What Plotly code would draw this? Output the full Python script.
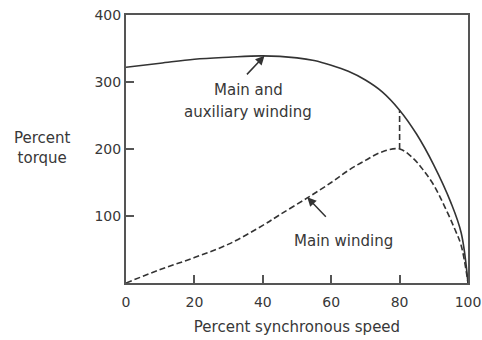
import plotly.graph_objects as go

speed_both = [0, 10, 20, 30, 40, 50, 55, 60, 65, 70, 75, 80, 85, 90, 95, 98, 100]
torque_both = [322, 328, 334, 337, 339, 336, 332, 325, 316, 303, 285, 258, 222, 176, 120, 75, 0]

speed_main = [0, 10, 20, 30, 40, 45, 53, 60, 65, 70, 75, 80, 84, 87, 90, 93, 96, 98, 100]
torque_main = [0, 20, 38, 58, 86, 102, 127, 150, 168, 183, 196, 200, 186, 168, 146, 116, 82, 56, 0]

switch_speed = [80, 80]
switch_torque = [200, 258]

x_ticks = [0, 20, 40, 60, 80, 100]
y_ticks = [100, 200, 300, 400]

ink = "#383838"
font = dict(family="DejaVu Sans, Verdana, sans-serif", size=15, color=ink)
tick_font = dict(family="DejaVu Sans, Verdana, sans-serif", size=14, color=ink)

fig = go.Figure()
fig.add_trace(go.Scatter(x=speed_both, y=torque_both, mode="lines",
                         line=dict(color="#333333", width=1.6, shape="spline", smoothing=1)))
fig.add_trace(go.Scatter(x=speed_main, y=torque_main, mode="lines",
                         line=dict(color="#333333", width=1.6, dash="6px,3px", shape="spline", smoothing=1)))
fig.add_trace(go.Scatter(x=switch_speed, y=switch_torque, mode="lines",
                         line=dict(color="#333333", width=1.6, dash="6px,3px")))

fig.update_xaxes(range=[0, 100], tickvals=x_ticks, ticks="inside", ticklen=8, tickwidth=1.5,
                 tickcolor="#555", showline=True, linecolor="#555", linewidth=2, mirror=True,
                 showgrid=False, zeroline=False, tickfont=tick_font, ticklabelstandoff=5,
                 automargin=False,
                 title=dict(text="Percent synchronous speed", font=font, standoff=13))
fig.update_yaxes(range=[0, 400], tickvals=y_ticks, ticks="inside", ticklen=8, tickwidth=1.5,
                 tickcolor="#555", showline=True, linecolor="#555", linewidth=2, mirror=True,
                 showgrid=False, zeroline=False, tickfont=tick_font, automargin=False)

fig.add_annotation(x=40.5, y=339, ax=-19, ay=20, axref="pixel", ayref="pixel",
                   xref="x", yref="y", showarrow=True, arrowhead=2, arrowsize=1.2,
                   arrowwidth=1.5, arrowcolor="#333", text="")
fig.add_annotation(x=35.7, y=288, text="Main and", showarrow=False,
                   xref="x", yref="y", font=font, xanchor="center", yanchor="middle")
fig.add_annotation(x=35.7, y=255, text="auxiliary winding", showarrow=False,
                   xref="x", yref="y", font=font, xanchor="center", yanchor="middle")
fig.add_annotation(x=53, y=128, ax=20, ay=21, axref="pixel", ayref="pixel",
                   xref="x", yref="y", showarrow=True, arrowhead=2, arrowsize=1.2,
                   arrowwidth=1.5, arrowcolor="#333", text="")
fig.add_annotation(x=63.7, y=63, text="Main winding", showarrow=False,
                   xref="x", yref="y", font=font, xanchor="center", yanchor="middle")
fig.add_annotation(xref="paper", yref="paper", text="Percent<br>torque",
                   x=(42 - 126) / (482 - 126 - 14), y=1 - (148 - 15) / (340 - 15 - 57),
                   xanchor="center", yanchor="middle",
                   showarrow=False, font=font, align="center")

fig.update_layout(width=482, height=340, margin=dict(l=126, r=14, t=15, b=57),
                  plot_bgcolor="white", paper_bgcolor="white", showlegend=False)
fig.write_html("out.html")
